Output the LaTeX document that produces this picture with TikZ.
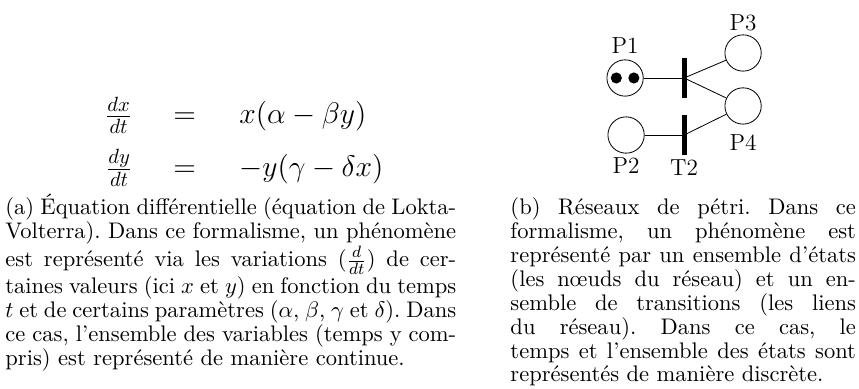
\documentclass[tikz,border=0pt]{standalone}
\usepackage{amsmath, amssymb}
\usepackage{tikz}
\usetikzlibrary{positioning}
\tikzset{
  place/.style={circle, draw, thin, minimum size=0.62cm, inner sep=0pt},
  trans/.style={rectangle, fill=black, minimum width=2.4pt, minimum height=0.67cm, inner sep=0pt},
  token/.style={circle, fill=black, minimum size=0.19cm, inner sep=0pt},
  plabel/.style={font=\fontsize{11.3}{13}\selectfont, inner sep=0pt},
  legend/.style={anchor=base west, inner sep=0pt, align=justify,
    font=\fontsize{10.95}{11.6}\selectfont\frenchspacing}
}

\begin{document}
\begin{tikzpicture}
  \useasboundingbox (0,0) rectangle (14.67,6.627);
  % Equations (Lokta-Volterra)
  \node[font=\Large] (eq) at (4.17,4.19) {$\begin{array}{r@{\hspace{20pt}}c@{\hspace{21pt}}l}
      \frac{dx}{dt} & = & x(\alpha-\beta y)\\[7pt]
      \frac{dy}{dt} & = & -y(\gamma-\delta x)
    \end{array}$};
  % Caption (a)
  \node[legend, text width=7.70cm] (capa) at (0.085,2.958)
    {(a) Équation différentielle (équation de Lokta-\linebreak
     Volterra). Dans ce formalisme, un phénomène\linebreak
     est représenté via les variations ($\frac{d}{dt}$) de cer-\linebreak
     taines valeurs (ici $x$ et $y$) en fonction du temps\linebreak
     $t$ et de certains paramètres ($\alpha$, $\beta$, $\gamma$ et $\delta$). Dans\linebreak
     ce cas, l'ensemble des variables (temps y com-\linebreak
     pris) est représenté de manière continue.};
  % Places
  \node[place] (p1) at (10.675,5.295) {};
  \node[place] (p2) at (10.692,4.321) {};
  \node[place] (p3) at (12.69,5.722) {};
  \node[place] (p4) at (12.69,4.817) {};
  % Arcs
  \draw (p1) -- (11.683,5.295) coordinate (a1);
  \draw (p2) -- (11.683,4.321) coordinate (a2);
  \draw (a1) -- (p3);
  \draw (a1) -- (p4);
  \draw (a2) -- (p4);
  % Transitions
  \node[trans] (t1) at (a1) {};
  \node[trans] (t2) at (a2) {};
  % Tokens
  \node[token] (k1) at ([xshift=-0.15cm]p1.center) {};
  \node[token] (k2) at ([xshift=0.15cm]p1.center) {};
  % Labels
  \node[plabel, above=2.5pt of p1] (lp1) {P1};
  \node[plabel, below=2pt of p2] (lp2) {P2};
  \node[plabel, above=1.5pt of p3] (lp3) {P3};
  \node[plabel, below=4.5pt of p4] (lp4) {P4};
  \node[plabel, below=2pt of t2] (lt2) {T2};
  % Caption (b)
  \node[legend, text width=5.90cm] (capb) at (8.711,2.958)
    {(b) Réseaux de pétri. Dans ce\linebreak
     formalisme, un phénomène est\linebreak
     représenté par un ensemble d'états\linebreak
     (les nœuds du réseau) et un en-\linebreak
     semble de transitions (les liens\linebreak
     du réseau). Dans ce cas, le\linebreak
     temps et l'ensemble des états sont\linebreak
     représentés de manière discrète.};
\end{tikzpicture}
\end{document}
